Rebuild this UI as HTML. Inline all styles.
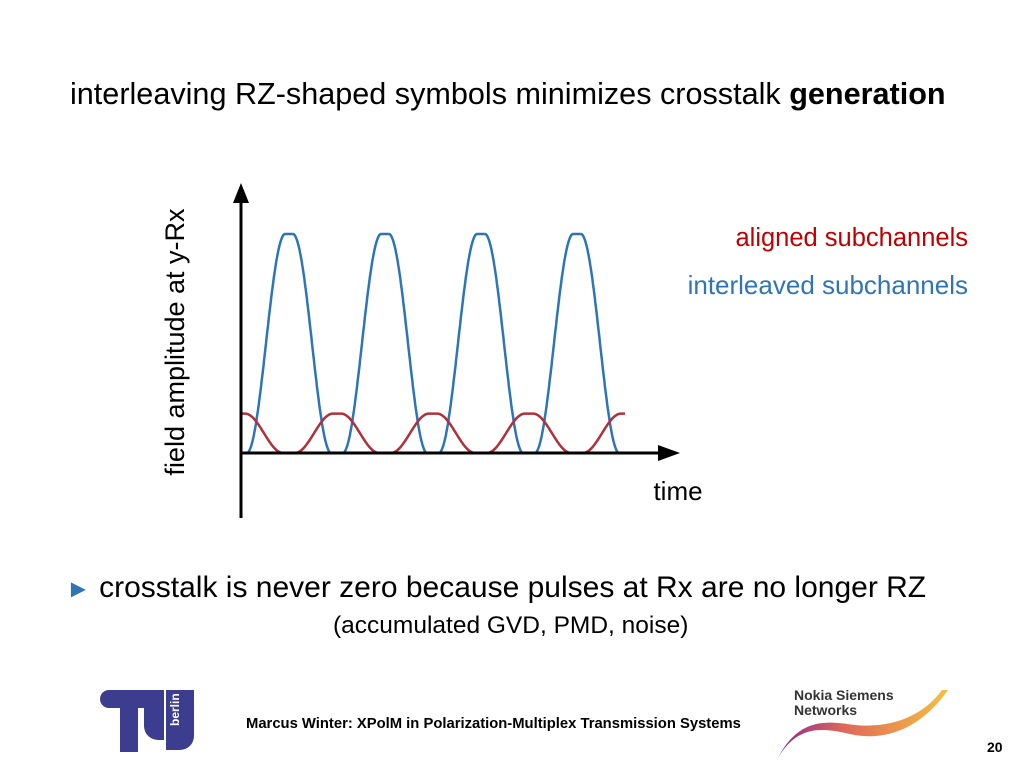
<!DOCTYPE html>
<html><head><meta charset="utf-8"><style>
body{margin:0;width:1024px;height:768px;background:#fff;overflow:hidden;font-family:"Liberation Sans","DejaVu Sans",sans-serif;position:relative}
.t{position:absolute;white-space:nowrap}
</style></head><body>
<div class="t" style="left:70px;top:77px;font-size:30.6px;color:#000">interleaving RZ-shaped symbols minimizes crosstalk <b>generation</b></div>
<svg width="1024" height="768" style="position:absolute;left:0;top:0">
<g id="plot"></g>
<line x1="241" y1="518" x2="241" y2="195" stroke="#000" stroke-width="3"/>
<polygon points="241,183 233,203 249,203" fill="#000"/>
<line x1="241" y1="453" x2="665" y2="453" stroke="#000" stroke-width="3"/>
<polygon points="680,453 658,445 658,461" fill="#000"/>
<text transform="translate(184,342) rotate(-90)" text-anchor="middle" font-size="27" fill="#000" font-family="Liberation Sans, sans-serif">field amplitude at y-Rx</text>
<text x="678" y="500" text-anchor="middle" font-size="26" fill="#000" font-family="Liberation Sans, sans-serif">time</text>
<text x="968" y="246" text-anchor="end" font-size="25.5" fill="#c00000" font-family="Liberation Sans, sans-serif">aligned subchannels</text>
<text x="968" y="294" text-anchor="end" font-size="26" fill="#2e75b6" font-family="Liberation Sans, sans-serif">interleaved subchannels</text>
</svg>
<div class="t" style="left:66px;top:571px;font-size:30px;color:#000"><span style="color:#2e75b6;font-size:25px">►</span> crosstalk is never zero because pulses at Rx are no longer RZ</div>
<div class="t" style="left:333px;top:612px;font-size:24.5px;color:#000">(accumulated GVD, PMD, noise)</div>
<div style="position:absolute;left:100px;top:690px;width:95px;height:62px">
<div style="position:absolute;left:0;top:0;width:58px;height:18px;background:#3d3d8f;border-radius:10px 0 0 10px"></div>
<div style="position:absolute;left:20px;top:10px;width:18px;height:52px;background:#3d3d8f"></div>
<div style="position:absolute;left:44px;top:0;width:20px;height:50px;background:#3d3d8f;border-radius:0 0 0 14px"></div>
<div style="position:absolute;left:66px;top:0;width:28px;height:60px;background:#3d3d8f;border-radius:0 0 14px 0"></div>
<div class="t" style="left:68px;top:36px;color:#fff;font-size:12px;font-weight:bold;transform:rotate(-90deg);transform-origin:0 0">berlin</div>
</div>
<div class="t" style="left:246px;top:716px;font-size:14.8px;font-weight:bold;color:#000">Marcus Winter: XPolM in Polarization-Multiplex Transmission Systems</div>
<div class="t" style="left:794px;top:688px;font-size:14px;font-weight:bold;color:#333;line-height:15px">Nokia Siemens<br>Networks</div>
<svg width="180" height="70" style="position:absolute;left:770px;top:690px">
<defs><linearGradient id="g" x1="0" x2="1"><stop offset="0" stop-color="#8a2a8a"/><stop offset="0.4" stop-color="#e06a5a"/><stop offset="1" stop-color="#f5c040"/></linearGradient></defs>
<path d="M8,68 C30,30 60,40 85,45 C115,50 150,40 178,0 L172,0 C150,30 115,38 85,35 C60,32 30,25 8,68Z" fill="url(#g)"/>
</svg>
<div class="t" style="left:987px;top:739px;font-size:14px;font-weight:bold">20</div>
<script>
const blueCenters=[0.5,1.5,2.5,3.5];
const blueAmps=[1,1,1,1];
const redCenters=[0,1,2,3,4];
const redAmps=[0.18,0.18,0.18,0.18,0.18];
const x0=241,x1=625,tMax=4,y0=453,y1=234;
const xs=t=>x0+(x1-x0)*t/tMax, ys=v=>y0-(y0-y1)*v;
function shape(d){d=Math.abs(d);if(d<0.04)return 1;if(d>0.44)return 0;return 0.5*(1+Math.cos(Math.PI*(d-0.04)/0.40));}
function path(cs,as){let s='';for(let i=0;i<=800;i++){const t=tMax*i/800;let v=0;cs.forEach((c,k)=>v+=as[k]*shape(t-c));s+=(i?'L':'M')+xs(t).toFixed(1)+','+ys(v).toFixed(1);}return s;}
const g=document.getElementById('plot');
const ns='http://www.w3.org/2000/svg';
const pb=document.createElementNS(ns,'path');
pb.setAttribute('d',path(blueCenters,blueAmps));pb.setAttribute('fill','none');pb.setAttribute('stroke','#2e75b6');pb.setAttribute('stroke-width','2.5');


g.appendChild(pb);
const pr=document.createElementNS(ns,'path');
pr.setAttribute('d',path(redCenters,redAmps));pr.setAttribute('fill','none');pr.setAttribute('stroke','#b0303a');pr.setAttribute('stroke-width','2.5');


g.appendChild(pr);
</script>
</body></html>
